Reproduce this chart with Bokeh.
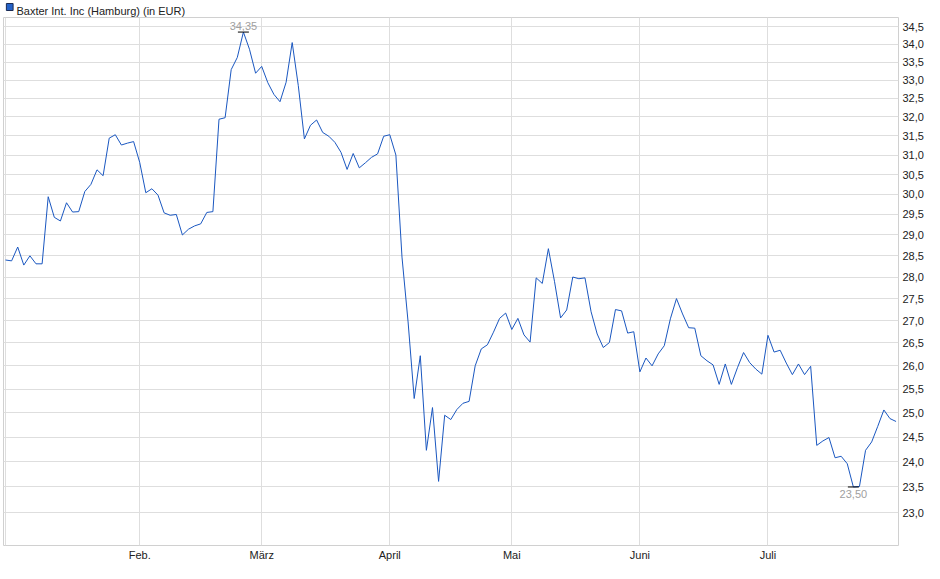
from bokeh.plotting import figure
from bokeh.models import FixedTicker, Range1d
from bokeh.layouts import column
from bokeh.embed import file_html
from bokeh.resources import INLINE
from bokeh.core.properties import value

series_name = "Baxter Int. Inc (Hamburg) (in EUR)"

# daily closing prices (trading days, Jan - end of Jul)
prices = [
    28.40, 28.38, 28.71, 28.28, 28.50, 28.31, 28.31, 29.94, 29.43, 29.34,
    29.79, 29.56, 29.57, 30.07, 30.25, 30.62, 30.47, 31.44, 31.53, 31.26,
    31.31, 31.35, 30.81, 30.04, 30.14, 29.98, 29.54, 29.48, 29.50, 29.00,
    29.14, 29.22, 29.27, 29.55, 29.57, 31.94, 31.98, 33.29, 33.63, 34.35,
    33.86, 33.19, 33.38, 32.93, 32.61, 32.41, 32.94, 34.05, 32.85, 31.42,
    31.78, 31.92, 31.59, 31.49, 31.33, 31.07, 30.63, 31.04, 30.67, 30.80,
    30.94, 31.03, 31.49, 31.53, 31.00, 28.47, 26.97, 25.30, 26.22, 24.23,
    25.11, 23.61, 24.95, 24.86, 25.07, 25.20, 25.24, 26.00, 26.37, 26.46,
    26.74, 27.05, 27.17, 26.80, 27.05, 26.68, 26.52, 27.98, 27.85, 28.67,
    27.90, 27.06, 27.24, 28.00, 27.96, 27.98, 27.20, 26.70, 26.40, 26.51,
    27.25, 27.22, 26.72, 26.75, 25.87, 26.17, 26.00, 26.26, 26.44, 27.04,
    27.50, 27.15, 26.84, 26.83, 26.22, 26.11, 26.02, 25.60, 26.04, 25.60,
    25.96, 26.29, 26.07, 25.93, 25.82, 26.67, 26.30, 26.34, 26.06, 25.81,
    26.04, 25.81, 25.99, 24.33, 24.42, 24.49, 24.08, 24.11, 23.96, 23.50,
    23.51, 24.23, 24.40, 24.72, 25.06, 24.88, 24.82,
]

# first trading day of each month (index into prices)
month_tick_index = [0, 22, 42, 63, 83, 104, 125]
month_tick_labels = ["", "Feb.", "März", "April", "Mai", "Juni", "Juli"]

y_ticks = [23.0, 23.5, 24.0, 24.5, 25.0, 25.5, 26.0, 26.5, 27.0, 27.5, 28.0, 28.5,
           29.0, 29.5, 30.0, 30.5, 31.0, 31.5, 32.0, 32.5, 33.0, 33.5, 34.0, 34.5]
y_tick_labels = ["23,0", "23,5", "24,0", "24,5", "25,0", "25,5", "26,0", "26,5",
                 "27,0", "27,5", "28,0", "28,5", "29,0", "29,5", "30,0", "30,5",
                 "31,0", "31,5", "32,0", "32,5", "33,0", "33,5", "34,0", "34,5"]

x = list(range(len(prices)))

FONT = "Liberation Sans"
LINE_COLOR = "#1a57c0"
SWATCH_COLOR = "#2462c8"
GRID_COLOR = "#dedede"
W = 932
HEADER_H = 17

# ---- header strip with the legend (pixel coordinates, y downwards) ----
hdr = figure(
    width=W, height=HEADER_H,
    x_range=Range1d(0, W), y_range=Range1d(HEADER_H, 0),
    x_axis_type=None, y_axis_type=None,
    output_backend="svg", toolbar_location=None,
    min_border_left=0, min_border_right=0, min_border_top=0, min_border_bottom=0,
)
hdr.outline_line_color = None
hdr.grid.visible = False
hdr.background_fill_color = "white"
hdr.border_fill_color = "white"
hdr.quad(left=[3], right=[10], top=[3], bottom=[10],
         fill_color=SWATCH_COLOR, line_color="#1b2c55", line_width=1)
hdr.text(x=[13.5], y=[10.5], text=[series_name], text_align="left", text_baseline="alphabetic",
         text_font_size="11px", text_color="#222222", text_font=value(FONT))

# ---- main chart ----
p = figure(
    width=W, height=550,
    y_axis_type="log", y_axis_location="right",
    x_range=Range1d(-0.33, 146.4), y_range=Range1d(22.38, 34.77),
    output_backend="svg", toolbar_location=None,
    min_border_left=3, min_border_right=34,
    min_border_top=0, min_border_bottom=22,
)
p.background_fill_color = "white"
p.border_fill_color = "white"
p.outline_line_color = "#d0d0d0"

p.line(x, prices, line_color=LINE_COLOR, line_width=1)

# max / min markers
vmax = max(prices)
vmin = min(prices)
imax = prices.index(vmax)
imin = prices.index(vmin)

def fmt(v):
    return f"{v:.2f}".replace(".", ",")

p.scatter([imax, imin], [vmax, vmin], marker="dash", size=11, line_color="black", line_width=1)
p.text(x=[imax], y=[vmax], text=[fmt(vmax)], text_align="center", text_baseline="bottom",
       y_offset=-2, text_font_size="11px", text_color="#a0a0a0", text_font=value(FONT))
p.text(x=[imin], y=[vmin], text=[fmt(vmin)], text_align="center", text_baseline="top",
       y_offset=3, text_font_size="11px", text_color="#a0a0a0", text_font=value(FONT))

# axes
p.xaxis.ticker = FixedTicker(ticks=month_tick_index)
p.xaxis.major_label_overrides = dict(zip(month_tick_index, month_tick_labels))
p.yaxis.ticker = FixedTicker(ticks=y_ticks)
p.yaxis.major_label_overrides = dict(zip(y_ticks, y_tick_labels))

for ax in (p.xaxis, p.yaxis):
    ax.axis_line_color = None
    ax.major_tick_line_color = None
    ax.minor_tick_line_color = None
    ax.major_tick_out = 0
    ax.major_tick_in = 0
    ax.major_label_text_font = FONT
    ax.major_label_text_font_size = "11px"
    ax.major_label_text_color = "#222222"
p.xaxis.major_label_standoff = 3
p.yaxis.major_label_standoff = 4

p.xgrid.grid_line_color = GRID_COLOR
p.ygrid.grid_line_color = GRID_COLOR

layout = column(hdr, p)

open("out.html", "w").write(file_html(layout, INLINE))
